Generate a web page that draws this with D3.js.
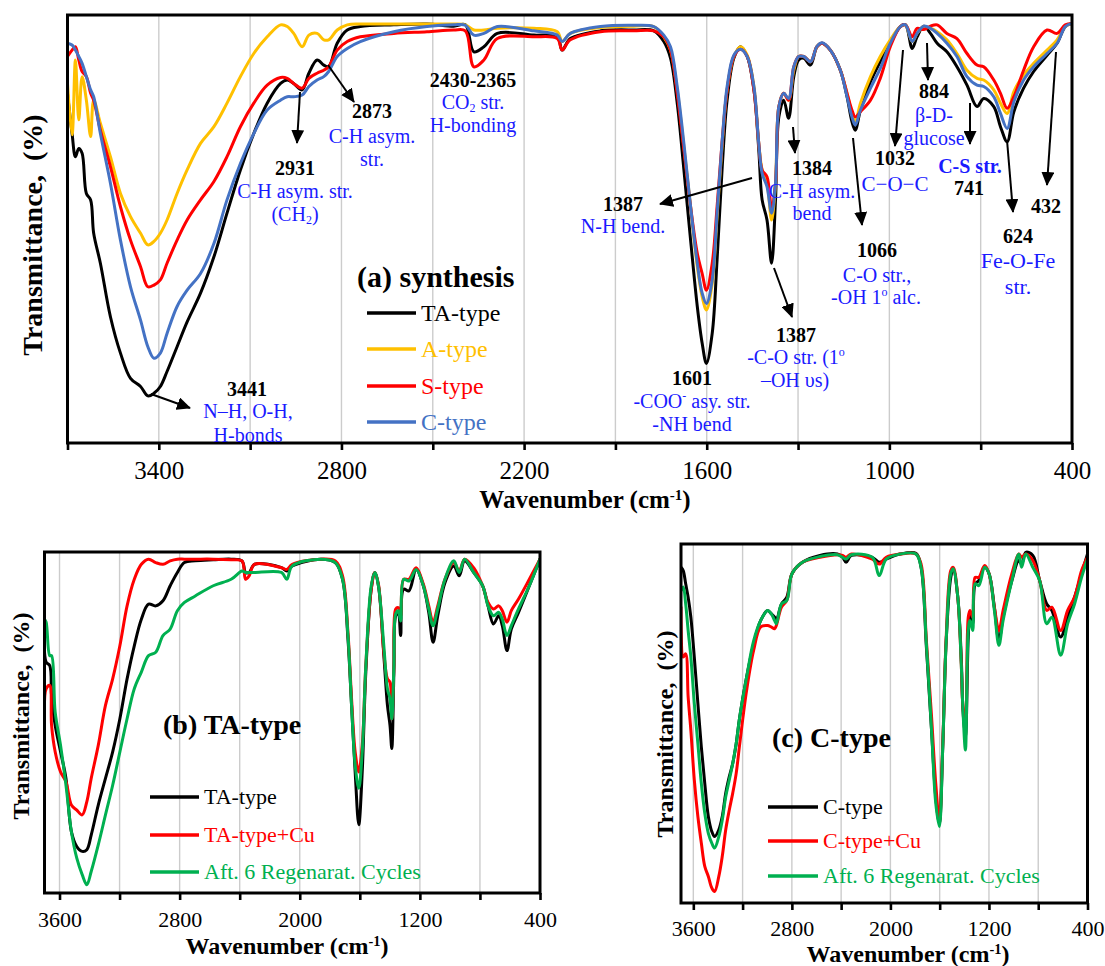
<!DOCTYPE html>
<html><head><meta charset="utf-8">
<script src="https://cdn.jsdelivr.net/npm/d3@7/dist/d3.min.js"></script>
<style>
body{margin:0;background:#fff;}
svg text{font-family:"Liberation Serif","Times New Roman",serif;white-space:pre;}
</style></head><body>
<svg id="chart" width="1105" height="966"></svg>
<script>
// ---------- Panel (a) synthesis ----------
const waveA = [3700,3685,3674,3663,3652,3638,3624,3614,3592,3559,3526,3493,3460,3436,3416,3395,3373,3340,3307,3263,3219,3176,3132,3088,3044,3000,2978,2957,2929,2907,2880,2858,2842,2814,2781,2738,2628,2519,2431,2393,2365,
 2332,2288,2168,2091,2075,2048,1949,1840,1774,1741,1719,1697,1675,1653,1631,1615,1601,1582,1566,1549,1533,1511,1489,1467,1445,1429,1418,1402,1387,1374,1363,
 1347,1331,1314,1298,1281,1259,1238,1221,1194,1161,1139,1123,1112,1095,1062,1030,997,964,947,925,909,887,865,843,811,778,745,712,690,657,635,613,591,559,526,482,449,422,400];
const taTypeA = [81.7,72.3,66.9,68.8,67.7,58.3,56.8,49.0,42.0,29.5,21.0,15.1,13.2,11.0,11.6,13.2,16.7,22.5,28.3,35.0,43.5,53.7,63.8,72.3,79.4,84.0,84.8,84.0,82.5,86.4,89.5,88.3,87.9,93.4,96.5,97.3,97.7,97.9,97.4,97.7,91.4,
 92.6,95.7,95.3,94.9,91.8,94.5,96.3,96.5,96.3,93.8,89.9,79.4,63.8,47.4,31.9,23.3,18.6,25.6,42.8,64.6,80.1,89.9,92.6,90.3,82.5,68.5,56.8,52.1,42.0,56.8,76.2,
 80.1,75.9,85.6,89.5,89.9,88.3,92.6,93.4,91.8,87.1,80.9,75.1,73.1,77.8,84.4,89.1,93.4,97.3,97.7,92.2,94.9,97.4,95.7,93.4,91.4,87.9,83.6,78.6,80.5,78.6,73.9,70.4,77.4,82.9,86.8,90.6,93.4,97.3,98.0];
const aTypeA = [84.0,72.0,89.5,75.5,85.6,80.1,71.6,80.1,74.7,66.9,58.3,52.9,49.0,46.3,47.1,49.0,52.1,58.3,63.8,70.0,73.9,79.4,85.6,91.0,94.9,97.7,97.3,95.7,92.6,95.3,95.7,94.2,94.2,96.5,97.7,97.9,97.9,97.9,97.9,97.7,96.5,
 96.5,96.9,96.9,96.1,93.8,95.7,97.1,97.4,97.3,94.9,91.8,82.5,69.2,55.2,41.2,34.2,31.1,37.3,52.9,70.0,82.5,90.3,92.6,90.6,83.3,70.0,63.8,60.7,52.1,60.7,78.6,
 81.7,80.1,87.1,90.3,90.3,89.1,92.6,93.4,91.8,87.1,81.7,77.0,75.1,79.4,85.6,90.3,94.2,97.3,97.7,93.8,95.7,97.3,96.9,96.1,94.2,91.0,87.1,85.2,84.8,82.5,79.4,77.0,82.1,86.0,88.7,91.8,94.2,97.3,98.0];
const sTypeA = [90.3,91.8,92.6,89.5,86.8,85.6,81.7,80.1,73.1,64.6,55.2,47.4,41.2,36.5,36.9,38.1,42.0,47.4,52.1,56.8,61.1,66.9,73.9,79.4,83.6,85.4,85.2,84.0,82.9,85.2,86.4,87.1,87.9,91.8,93.8,94.9,95.7,96.1,96.5,96.3,87.9,
 89.5,94.5,94.9,94.5,91.8,94.2,96.1,96.3,96.3,94.9,91.8,81.7,68.5,55.2,44.3,39.6,35.7,42.0,55.2,70.8,82.5,90.3,92.0,90.3,82.5,70.0,63.8,62.2,55.2,60.7,78.6,
 81.7,80.1,87.9,90.3,90.3,89.1,92.6,93.4,91.8,87.1,81.7,77.8,76.2,77.4,80.1,85.2,92.6,97.3,97.7,94.9,96.9,96.6,97.4,97.7,95.7,94.5,91.0,88.3,87.9,84.8,81.7,78.2,80.9,87.1,92.6,96.5,95.7,97.7,98.0];
const cTypeA = [93.4,93.0,91.8,90.3,88.7,85.6,82.5,80.9,72.3,60.7,47.4,36.5,28.7,22.5,19.8,21.0,25.6,31.9,35.7,39.6,46.6,56.8,65.3,72.3,77.8,80.1,80.9,80.9,81.3,83.3,84.8,85.6,86.8,90.3,92.2,93.8,96.1,97.3,97.7,97.6,95.3,
 95.7,97.3,96.3,95.3,93.8,95.7,97.3,97.6,97.3,95.3,92.6,83.3,70.0,55.2,42.0,35.0,32.6,38.1,53.7,70.8,83.3,90.6,92.0,90.3,83.3,70.0,63.0,59.9,53.7,60.7,78.6,
 81.7,80.5,87.9,90.3,90.3,89.1,92.6,93.5,91.8,87.1,80.9,76.2,74.3,77.8,82.9,87.5,93.4,97.3,97.7,93.8,95.7,97.4,96.9,95.7,93.4,90.3,85.6,83.6,83.3,80.9,77.0,73.5,79.7,84.8,87.9,91.0,93.4,97.3,98.0];
const seriesNamesA = ["TA-type","A-type","S-type","C-type"];

// ---------- Panel (b) TA-type ----------
const waveB = [3700,3689,3665,3653,3629,3593,3557,3521,3485,3449,3418,3389,3342,3294,3246,3198,3150,3102,3055,3007,2959,2911,2863,2815,2768,2696,2576,2457,2385,2361,2337,2301,2122,2086,2050,1859,1763,1715,1679,1655,1631,1607,1584,1560,1524,1500,1476,1440,1416,1399,1387,1373,1361,1344,1328,1308,1273,1225,1177,1141,1112,1081,1033,974,938,902,842,782,746,710,675,651,620,591,543,471,400];
const taTypeB = [80.3,67.7,66.7,57.9,49.2,41.4,33.6,18.0,13.6,12.2,12.7,17.0,25.8,33.6,41.4,51.1,62.8,72.5,80.3,84.7,84.2,85.7,90.1,94.0,96.9,97.4,97.7,97.9,97.4,94.0,94.0,96.4,95.4,94.4,95.9,97.9,96.9,92.0,74.5,55.0,35.5,20.0,35.5,64.8,89.1,94.0,90.1,69.6,55.0,49.2,42.4,64.8,81.3,82.3,75.5,89.1,88.6,94.9,90.1,82.3,73.5,81.3,91.0,95.9,93.0,97.4,94.0,90.1,84.2,78.9,81.3,78.4,71.1,77.4,82.3,90.1,97.9];
const taCuB = [53.1,59.9,60.9,49.2,41.4,35.5,32.6,25.8,24.3,22.9,26.8,33.6,43.3,55.0,62.8,72.5,84.2,92.0,96.4,97.9,96.9,96.4,97.4,97.9,97.9,97.9,97.9,97.7,97.4,92.0,93.0,96.4,95.4,94.9,96.4,97.9,97.4,93.0,76.4,57.0,41.4,35.5,43.3,66.7,89.1,94.0,90.6,70.6,62.8,61.8,51.1,66.7,83.3,83.7,81.3,92.0,92.0,95.4,90.6,84.2,79.4,84.2,92.0,96.9,94.4,97.9,95.4,90.1,85.2,83.3,84.2,82.8,79.4,82.8,86.2,92.0,97.9];
const regenB = [80.3,79.4,69.6,69.6,53.1,43.3,31.6,18.0,10.2,5.4,2.4,6.3,14.1,22.9,31.6,41.4,51.1,59.9,64.8,69.6,70.6,75.5,77.4,82.8,85.2,87.1,90.1,92.0,94.4,94.0,94.0,94.0,94.0,92.0,95.9,97.9,96.9,92.0,75.5,55.0,37.5,30.7,41.4,66.7,90.1,94.0,90.1,72.5,59.9,57.0,51.1,66.7,81.8,82.8,79.8,92.0,91.5,94.9,90.1,83.3,78.4,83.3,92.0,97.4,94.0,97.9,94.0,90.1,84.2,81.3,82.3,80.3,75.5,78.4,83.3,90.1,97.9];
const seriesNamesB = ["TA-type","TA-type+Cu","Aft. 6 Regenarat. Cycles"];

// ---------- Panel (c) C-type ----------
const waveC = [3700,3682,3662,3642,3620,3592,3563,3535,3507,3478,3450,3427,3393,3365,3337,3308,3280,3252,3223,3167,3110,3053,2997,2968,2940,2926,2884,2841,2799,2714,2572,2430,2388,2360,2317,2147,2091,2034,1921,1793,1751,1708,1666,1632,1603,1575,1547,1510,1490,1453,1425,1411,1391,1368,1354,1332,1312,1283,1235,1199,1156,1119,1085,1014,958,935,901,844,788,731,689,618,561,505,448,400];
const cTypeC = [93.5,92.6,88.9,85.2,79.6,68.5,55.6,43.5,33.3,24.1,19.9,18.5,20.4,24.1,30.6,35.2,38.9,44.4,51.9,63.0,72.2,78.7,81.5,80.6,79.6,78.7,83.3,85.2,91.7,94.9,96.8,97.2,96.3,94.9,96.8,96.3,94.9,95.8,97.2,97.4,93.5,71.3,48.1,29.6,22.2,43.5,73.1,90.7,93.1,85.2,68.5,53.7,46.3,74.1,80.6,77.8,88.9,89.8,93.5,91.7,82.4,73.1,79.6,89.8,95.4,94.4,97.7,96.8,89.8,83.3,81.5,74.1,79.6,85.2,91.7,97.2];
const cCuC = [82.4,68.5,69.4,57.4,48.1,34.3,24.1,16.7,10.2,7.4,4.2,3.2,7.4,13.0,20.4,25.9,30.6,36.1,44.4,59.3,70.4,76.9,77.3,76.9,76.4,77.3,82.4,84.3,91.7,94.9,96.3,97.0,96.8,96.3,97.2,95.8,94.4,96.3,97.2,97.2,94.4,73.1,51.9,33.3,23.1,44.4,74.1,92.6,93.5,85.2,66.7,54.6,50.0,79.6,81.5,79.6,90.7,90.7,94.0,91.7,82.4,75.9,81.5,91.7,97.2,96.3,97.2,95.4,89.8,81.5,82.4,75.9,81.5,85.2,92.6,96.3];
const regenC = [87.0,88.0,83.3,75.9,68.5,55.6,44.4,33.3,25.0,19.4,16.7,15.3,18.5,23.1,29.6,34.3,38.9,44.4,51.9,63.0,73.1,78.7,81.5,80.6,78.7,77.8,83.3,84.3,91.7,94.9,96.5,97.0,96.3,95.8,97.0,96.3,91.2,95.8,97.2,97.2,93.5,72.2,48.1,27.8,21.3,43.5,73.1,91.7,93.1,85.2,66.7,53.7,42.6,75.9,78.7,75.9,88.9,88.4,93.5,91.7,81.5,71.8,78.7,89.8,97.2,93.5,97.2,93.5,89.8,77.8,79.6,69.0,77.8,83.3,90.7,95.8];
const seriesNamesC = ["C-type","C-type+Cu","Aft. 6 Regenarat. Cycles"];

// ---------- axis ticks ----------
const ticksA = [3700,3400,3100,2800,2500,2200,1900,1600,1300,1000,700,400];
const tickLabelsA = [3400,2800,2200,1600,1000,400];
const ticksBC = [3600,3200,2800,2400,2000,1600,1200,800,400];
const tickLabelsBC = [3600,2800,2000,1200,400];

const xTitle = "Wavenumber (cm";
const yTitle = "Transmittance,  (%)";

// ---------- drawing ----------
const svg = d3.select("#chart");
const defs = svg.append("defs");
defs.append("marker").attr("id","arrow").attr("markerUnits","userSpaceOnUse")
  .attr("markerWidth",14).attr("markerHeight",13).attr("refX",13).attr("refY",6.5)
  .attr("orient","auto").append("path").attr("d","M0,0L14,6.5L0,13Z").attr("fill","#000");

function richText(parent, x, y, segs, o){
  const t = parent.append("text").attr("x",x).attr("y",y)
    .attr("text-anchor",o.anchor||"middle").attr("font-size",o.size)
    .attr("font-weight",o.bold?"bold":"normal").attr("fill",o.color||"#000");
  let shift = 0;
  segs.forEach(([s,mode])=>{
    const sp = t.append("tspan").text(s);
    const target = mode==="sup" ? -(o.supShift||0.38)*o.size : mode==="sub" ? 0.14*o.size : 0;
    if (target!==shift) sp.attr("dy", target-shift);
    shift = target;
    if (mode) sp.attr("font-size", o.size*0.6);
  });
  return t;
}

function drawPanel(cfg){
  const x = d3.scaleLinear().domain([3700,400]).range([cfg.left,cfg.right]);
  const y = d3.scaleLinear().domain([0,100]).range([cfg.bottom,cfg.top]);
  const g = svg.append("g");
  const clipId = "clip"+cfg.id;
  defs.append("clipPath").attr("id",clipId).append("rect")
    .attr("x",cfg.left).attr("y",cfg.top).attr("width",cfg.right-cfg.left).attr("height",cfg.bottom-cfg.top);
  g.selectAll("line.grid").data(cfg.ticks.filter(d=>d<3700 && d>400)).join("line").attr("class","grid")
    .attr("x1",d=>x(d)).attr("x2",d=>x(d)).attr("y1",cfg.top).attr("y2",cfg.bottom)
    .attr("stroke","#cccccc").attr("stroke-width",1.4);
  const line = d3.line().x(d=>x(d[0])).y(d=>y(d[1])).curve(d3.curveCatmullRom.alpha(0.5));
  cfg.series.forEach(s=>{
    g.append("path").datum(cfg.wave.map((w,i)=>[w,s.values[i]]))
      .attr("d",line).attr("fill","none").attr("stroke",s.color).attr("stroke-width",3)
      .attr("stroke-linejoin","round").attr("stroke-linecap","round").attr("clip-path",`url(#${clipId})`);
  });
  const axis = d3.axisBottom(x).tickValues(cfg.ticks).tickSize(7).tickSizeOuter(0)
    .tickFormat(d=>cfg.labels.includes(d)?String(d):"");
  const ax = g.append("g").attr("transform",`translate(0,${cfg.bottom})`).call(axis);
  ax.select(".domain").remove();
  ax.selectAll(".tick line").attr("stroke","#000").attr("stroke-width",2.6);
  ax.selectAll(".tick text").attr("font-size",cfg.tickFont).attr("fill","#000")
    .attr("y",cfg.labelBase-cfg.bottom).attr("dy",0)
    .style("font-family","'Liberation Serif','Times New Roman',serif");
  g.append("rect").attr("x",cfg.left).attr("y",cfg.top).attr("width",cfg.right-cfg.left)
    .attr("height",cfg.bottom-cfg.top).attr("fill","none").attr("stroke","#000").attr("stroke-width",3);
  // axis titles
  richText(g, cfg.xTitleX, cfg.xTitleY, [[xTitle],["-1","sup"],[")"]], {size:cfg.titleFont,bold:true,supShift:0.32});
  g.append("text").attr("transform",`translate(${cfg.yTitleX},${cfg.yTitleY}) rotate(-90)`)
    .attr("text-anchor","middle").attr("dy","0.35em").attr("font-size",cfg.yTitleFont)
    .attr("font-weight","bold").text(yTitle);
  // legend
  richText(g, cfg.labelX, cfg.labelY, [[cfg.label]], {size:cfg.labelFont,bold:true,anchor:"start"});
  cfg.series.forEach((s,i)=>{
    const ly = cfg.legY[i];
    g.append("line").attr("x1",cfg.legX0).attr("x2",cfg.legX1).attr("y1",ly).attr("y2",ly)
      .attr("stroke",s.color).attr("stroke-width",3.5);
    g.append("text").attr("x",cfg.legX1+5).attr("y",ly+cfg.legFont*0.33).attr("font-size",cfg.legFont)
      .attr("fill",s.color).text(s.name);
  });
}

drawPanel({id:"a", left:67.5, right:1072, top:15, bottom:443, wave:waveA, ticks:ticksA, labels:tickLabelsA,
  tickFont:25, labelBase:479, titleFont:25, xTitleX:585, xTitleY:508, yTitleX:32, yTitleY:235, yTitleFont:28,
  label:"(a) synthesis", labelX:357, labelY:287, labelFont:30,
  legX0:367, legX1:416, legY:[313,349,386,422], legFont:24,
  series:[{name:seriesNamesA[0],values:taTypeA,color:"#000000"},{name:seriesNamesA[1],values:aTypeA,color:"#FFC000"},
          {name:seriesNamesA[2],values:sTypeA,color:"#FF0000"},{name:seriesNamesA[3],values:cTypeA,color:"#4472C4"}]});

drawPanel({id:"b", left:44.5, right:540, top:552, bottom:893, wave:waveB, ticks:ticksBC, labels:tickLabelsBC,
  tickFont:22, labelBase:927, titleFont:24, xTitleX:287, xTitleY:954, yTitleX:21, yTitleY:716, yTitleFont:24,
  label:"(b) TA-type", labelX:163, labelY:734, labelFont:28,
  legX0:150, legX1:199, legY:[797,835,872], legFont:22,
  series:[{name:seriesNamesB[0],values:taTypeB,color:"#000000"},{name:seriesNamesB[1],values:taCuB,color:"#FF0000"},
          {name:seriesNamesB[2],values:regenB,color:"#00B050"}]});

drawPanel({id:"c", left:681, right:1087.5, top:544, bottom:903, wave:waveC, ticks:ticksBC, labels:tickLabelsBC,
  tickFont:22, labelBase:936, titleFont:24, xTitleX:908, xTitleY:962, yTitleX:665, yTitleY:734, yTitleFont:24,
  label:"(c) C-type", labelX:772, labelY:747, labelFont:28,
  legX0:768, legX1:818, legY:[807,841,876], legFont:22,
  series:[{name:seriesNamesC[0],values:cTypeC,color:"#000000"},{name:seriesNamesC[1],values:cCuC,color:"#FF0000"},
          {name:seriesNamesC[2],values:regenC,color:"#00B050"}]});

// ---------- annotations on panel (a) ----------
const BLUE = "#1a1aff";
const notes = [
 {x:247,y:396,b:1,t:[["3441"]]},
 {x:248,y:418,c:1,t:[["N–H, O-H,"]]},
 {x:248,y:442,c:1,t:[["H-bonds"]]},
 {x:295,y:175,b:1,t:[["2931"]]},
 {x:295,y:198,c:1,t:[["C-H asym. str."]]},
 {x:295,y:221,c:1,t:[["(CH"],["2","sub"],[")"]]},
 {x:372,y:118,b:1,t:[["2873"]]},
 {x:372,y:143,c:1,t:[["C-H asym."]]},
 {x:372,y:166,c:1,t:[["str."]]},
 {x:473,y:87,b:1,t:[["2430-2365"]]},
 {x:473,y:109,c:1,t:[["CO"],["2","sub"],[" str."]]},
 {x:473,y:132,c:1,t:[["H-bonding"]]},
 {x:623,y:211,b:1,t:[["1387"]]},
 {x:623,y:233,c:1,t:[["N-H bend."]]},
 {x:692,y:385,b:1,t:[["1601"]]},
 {x:692,y:408,c:1,t:[["-COO"],["-","sup"],[" asy. str."]]},
 {x:692,y:431,c:1,t:[["-NH bend"]]},
 {x:796,y:342,b:1,t:[["1387"]]},
 {x:796,y:364,c:1,t:[["-C-O str. (1"],["o","sup"]]},
 {x:795,y:387,c:1,t:[["–OH υs)"]]},
 {x:812,y:175,b:1,t:[["1384"]]},
 {x:812,y:198,c:1,t:[["C-H asym."]]},
 {x:812,y:220,c:1,t:[["bend"]]},
 {x:877,y:257,b:1,t:[["1066"]]},
 {x:877,y:282,c:1,t:[["C-O str.,"]]},
 {x:876,y:304,c:1,t:[["-OH 1"],["o","sup"],[" alc."]]},
 {x:895,y:165,b:1,t:[["1032"]]},
 {x:895,y:191,c:1,s:21,t:[["C−O−C"]]},
 {x:934,y:98,b:1,t:[["884"]]},
 {x:934,y:122,c:1,t:[["β-D-"]]},
 {x:934,y:145,c:1,t:[["glucose"]]},
 {x:970,y:173,b:1,c:1,t:[["C-S str."]]},
 {x:969,y:195,b:1,t:[["741"]]},
 {x:1018,y:243,b:1,t:[["624"]]},
 {x:1018,y:268,c:1,s:22,t:[["Fe-O-Fe"]]},
 {x:1018,y:294,c:1,s:22,t:[["str."]]},
 {x:1046,y:213,b:1,t:[["432"]]}
];
const arrows = [[151,394,190,408],[300,92,297,143],[328,65,354,102],[752,178,660,204],[774,268,792,317],
  [793,127,795,153],[853,138,862,225],[903,50,895,146],[927,43,928,80],[970,103,970,144],[1007,140,1013,212],[1056,52,1047,185]];
const ann = svg.append("g");
arrows.forEach(a=>{
  ann.append("line").attr("x1",a[0]).attr("y1",a[1]).attr("x2",a[2]).attr("y2",a[3])
    .attr("stroke","#000").attr("stroke-width",2).attr("marker-end","url(#arrow)");
});
notes.forEach(n=>richText(ann, n.x, n.y, n.t, {size:n.s||20, bold:!!n.b, color:n.c?BLUE:"#000"}));
</script>
</body></html>
